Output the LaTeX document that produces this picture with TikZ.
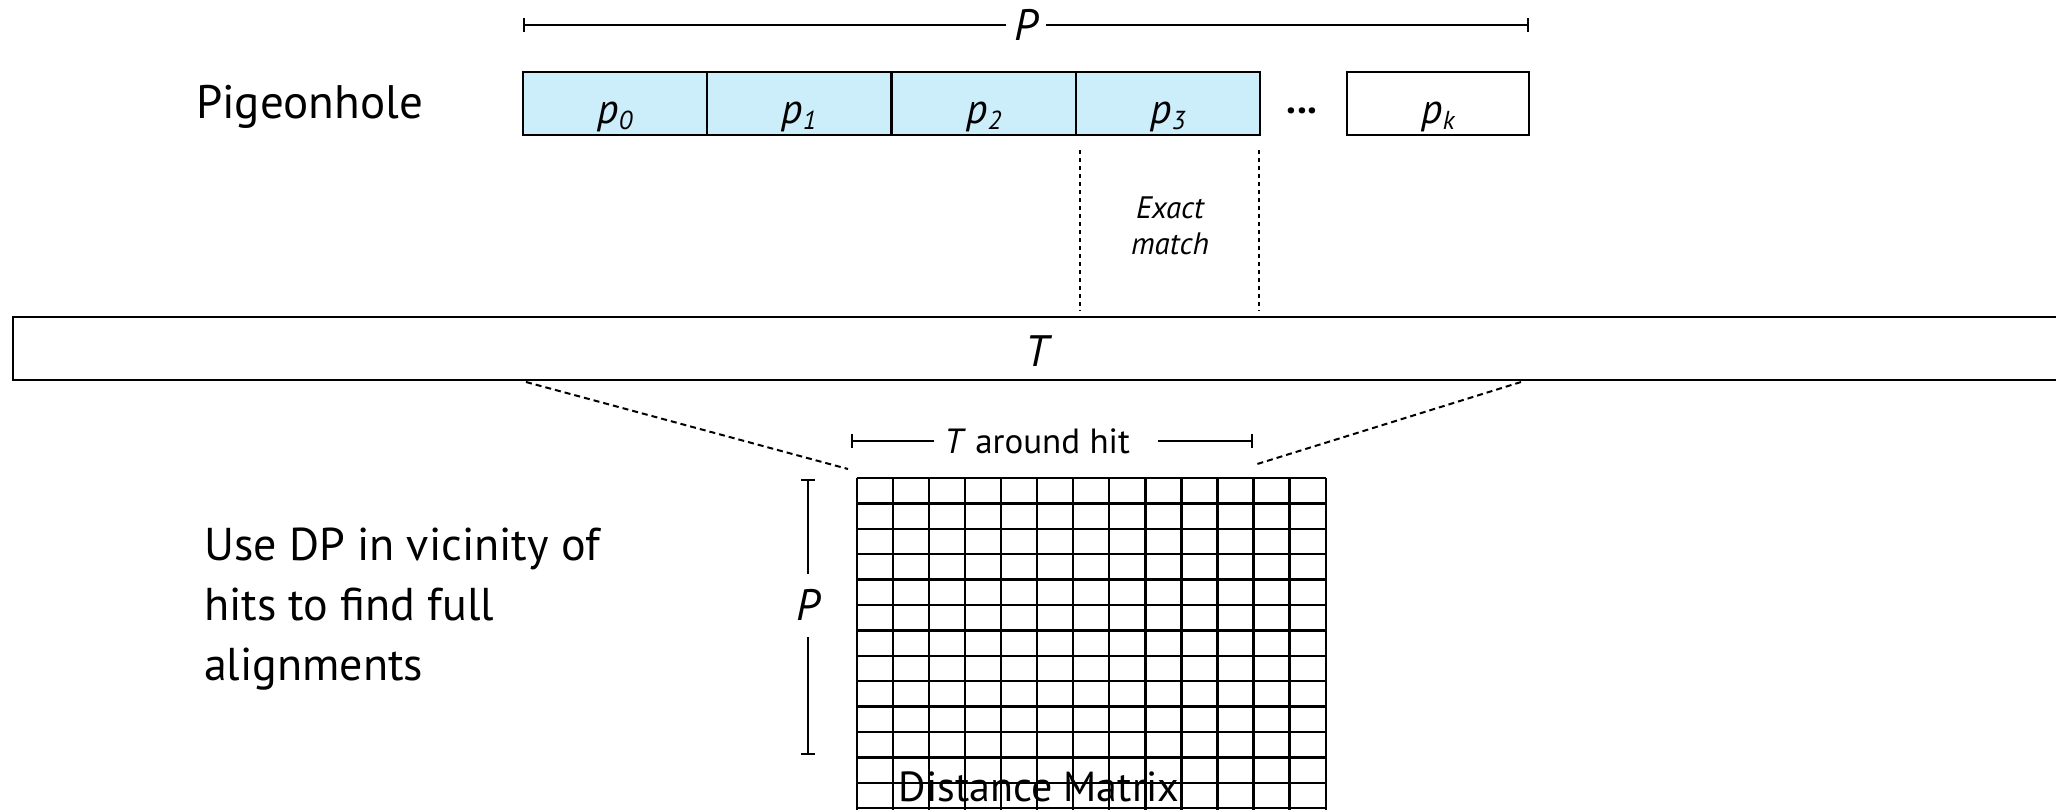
\documentclass[tikz,border=0pt]{standalone}
\usepackage{fontspec}
\setmainfont{PT Sans}
\usepackage{tikz}
\usetikzlibrary{arrows.meta, positioning}

\definecolor{holeblue}{RGB}{204,238,251}

\tikzset{
	hole/.style={draw, line width=1.1pt, fill=holeblue, minimum width=92pt, minimum height=31.5pt, inner sep=0pt},
	plabel/.style={font=\fontsize{21}{24}\selectfont\itshape, inner sep=0pt},
	ital/.style={font=\fontsize{22}{26}\selectfont\itshape},
	big/.style={font=\fontsize{23}{30}\selectfont},
	dimline/.style={line width=1pt},
	dotline/.style={line width=1pt, dash pattern=on 2pt off 2pt},
	dashline/.style={line width=1pt, dash pattern=on 3pt off 2pt},
	gridline/.style={line width=1.2pt},
	tick/.tip={Bar[width=7pt, line width=1pt]}
}

\newcommand{\pname}[1]{p\raisebox{-0.3ex}{\fontsize{13}{13}\selectfont #1}}

\begin{document}
\begin{tikzpicture}[x=0.5pt, y=-0.5pt]
	\clip (0,0) rectangle (2056,809);

	% Pattern length
	\coordinate (pl) at (523,25);
	\coordinate (pr) at (1529,25);
	\draw[dimline, tick-tick] (pl) -- node[fill=white, ital, inner xsep=4pt, inner ysep=2pt] (plen) {P} (pr);

	% Pigeonhole pieces
	\node[big, font=\fontsize{23.5}{30}\selectfont, anchor=base west] (pigeon) at (189,118) {Pigeonhole};
	\foreach \i/\x in {0/615,1/799,2/984,3/1168}{
		\node[hole] (p\i) at (\x,103.4) {};
		\node[plabel, anchor=base] (lab\i) at ([yshift=6.5pt]p\i.south) {\pname{\i}};
	}
	\node[font=\fontsize{20}{20}\selectfont\bfseries, anchor=base] (dots) at (1302,113) {...};
	\node[hole, fill=white, minimum width=91pt] (pk) at (1438,103.4) {};
	\node[plabel, anchor=base] (labk) at ([yshift=6.5pt]pk.south) {\pname{k}};

	% Exact match
	\coordinate (ea) at (1080,150);
	\coordinate (eb) at (1080,311);
	\coordinate (ec) at (1259,150);
	\coordinate (ed) at (1259,311);
	\draw[dotline] (ea) -- (eb);
	\draw[dotline] (ec) -- (ed);
	\node[align=center, font=\fontsize{15.5}{18}\selectfont\itshape] (exact) at (1170,226) {Exact\\match};

	% Text
	\node[draw, line width=1.2pt, minimum width=1043.5pt, minimum height=31.5pt] (text) at (1056.5,348.5) {};
	\node[ital] (tlab) at (1037,351) {T};

	% Zoom to the window around the hit
	\coordinate (dl1) at (526,382);
	\coordinate (dl2) at (848,469);
	\coordinate (dr1) at (1521,382);
	\coordinate (dr2) at (1254,465);
	\draw[dashline] (dl1) -- (dl2);
	\draw[dashline] (dr1) -- (dr2);

	% T around hit
	\coordinate (hl) at (851,441);
	\coordinate (hr) at (1253,441);
	\node[font=\fontsize{17.5}{20}\selectfont, anchor=west, inner xsep=5pt] (hit) at (934,441) {\textit{T} around hit};
	\draw[dimline, tick-] (hl) -- (hit.west);
	\draw[dimline, -tick] ([xshift=9pt]hit.east) -- (hr);

	% Distance matrix
	\foreach \i in {0,...,13}
		\draw[gridline] (856.7+\i*36.08,478) -- (856.7+\i*36.08,820);
	\foreach \j in {0,...,13}
		\draw[gridline] (856.7,478+\j*25.4) -- (1325.7,478+\j*25.4);
	\node[font=\fontsize{21}{24}\selectfont, anchor=base] (dm) at (1039,801) {Distance Matrix};

	% Pattern side of the matrix
	\coordinate (vt) at (808,479);
	\coordinate (vb) at (808,755);
	\draw[dimline, tick-tick] (vt) -- node[pos=0.458, fill=white, ital, inner xsep=4pt, inner ysep=8pt] (vlen) {P} (vb);

	% Remark
	\foreach \t/\y in {Use DP in vicinity of/560, hits to find full/620, alignments/680}
		\node[big, anchor=base west] at (197,\y) {\t};
\end{tikzpicture}
\end{document}
